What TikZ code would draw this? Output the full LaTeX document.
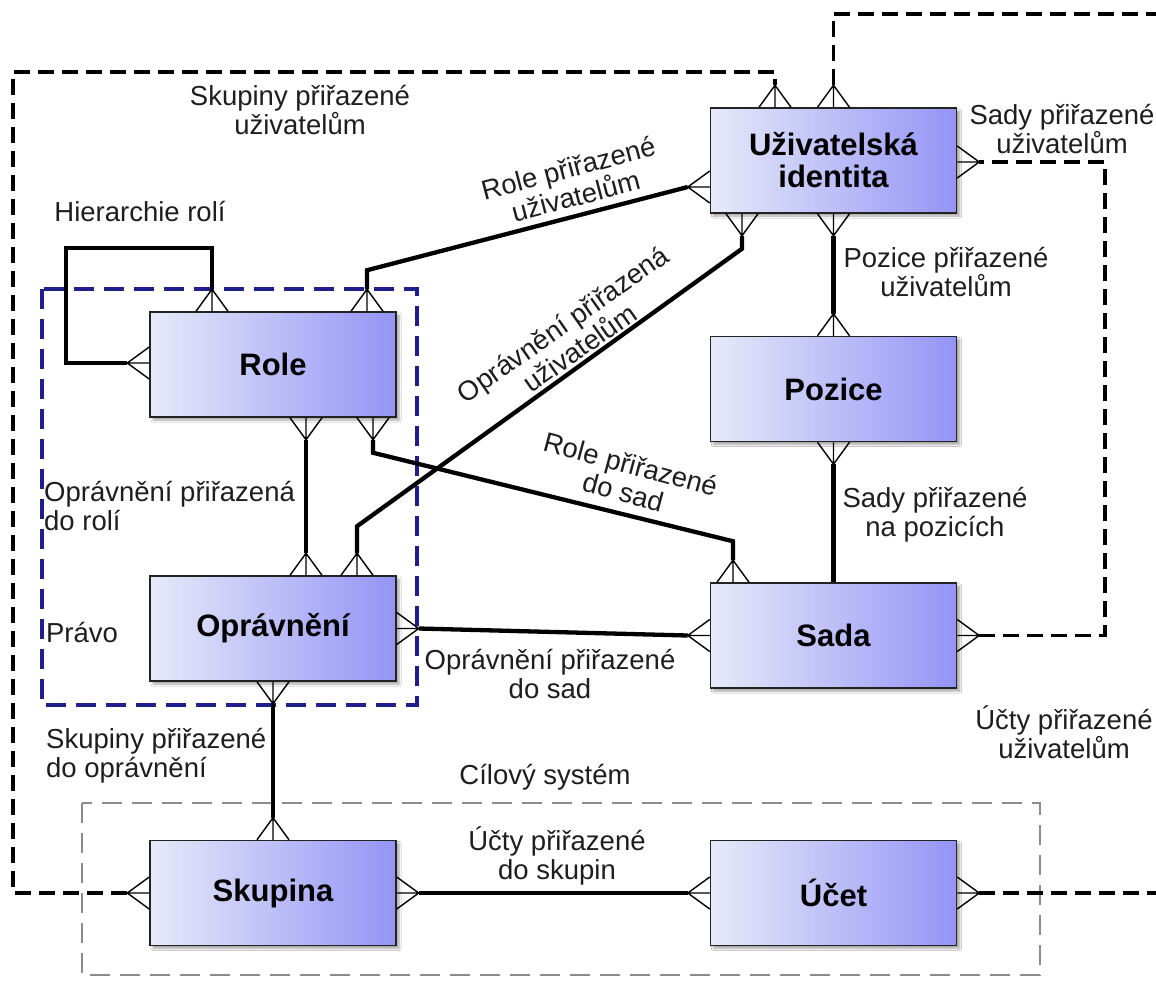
\documentclass[tikz,border=0pt]{standalone}
\usepackage{fontspec}
\setmainfont{Liberation Sans}
\usetikzlibrary{calc,shadows.blur}

\definecolor{boxleft}{RGB}{230,234,248}
\definecolor{boxright}{RGB}{148,148,246}
\definecolor{boxedge}{RGB}{35,35,35}
\definecolor{labeltext}{RGB}{30,30,30}
\definecolor{rightsblue}{RGB}{30,30,140}
\definecolor{systemgray}{RGB}{140,140,140}

\tikzset{
  entity/.style={draw=boxedge, line width=1.5pt, minimum width=246pt,
    minimum height=105pt, inner sep=0pt, left color=boxleft, right color=boxright,
    font=\fontsize{31}{32}\selectfont\bfseries, align=center,
    blur shadow={shadow xshift=3pt, shadow yshift=-3pt, shadow blur steps=6, shadow opacity=35}},
  lbl/.style={font=\fontsize{27.5}{29}\selectfont, text=labeltext, align=center, inner sep=0pt},
  rel/.style={line width=4.3pt},
  optrel/.style={line width=3.3pt, dash pattern=on 16pt off 8pt},
  crowline/.style={line width=1.4pt},
  rightsframe/.style={draw=rightsblue, line width=3.2pt, dash pattern=on 20pt off 10pt},
  systemframe/.style={draw=systemgray, line width=2.8pt, dash pattern=on 20pt off 10pt},
}

% crow's foot at port #1, pointing away from the box along (#2,#3)
\newcommand{\crowfoot}[3]{%
  \coordinate (#1-a) at ($(#1)+({22*(#2)},{22*(#3)})$);
  \draw[crowline] (#1-a) -- (#1)
    (#1-a) -- ($(#1)+({16*(#3)},{-16*(#2)})$)
    (#1-a) -- ($(#1)+({-16*(#3)},{16*(#2)})$);
}

\begin{document}
\begin{tikzpicture}[x=1pt,y=-1pt]
\useasboundingbox (0,0) rectangle (1156,980);
\fill[white] (0,0) rectangle (1156,980);

% group frames
\draw[rightsframe] (42,289) rectangle (417,705);
\draw[systemframe] (82,803) rectangle (1040,975);

% entities
\node[entity] (uid)  at (833.5,160.5) {Uživatelská\\identita};
\node[entity] (role) at (273,364.5) {Role};
\node[entity] (poz)  at (833.5,389) {Pozice};
\node[entity] (opr)  at (273,628.5) {Oprávnění};
\node[entity] (sada) at (833.5,635.5) {Sada};
\node[entity] (skup) at (273,893) {Skupina};
\node[entity] (ucet) at (833.5,893) {Účet};

% ports on the box sides
\coordinate (uT1) at ($(uid.north)+(-58.5,0)$);
\coordinate (uT2) at (uid.north);
\coordinate (uB1) at ($(uid.south)+(-91.5,0)$);
\coordinate (uB2) at (uid.south);
\coordinate (uL)  at ($(uid.west)+(0,26.5)$);
\coordinate (uR)  at ($(uid.east)+(0,1.5)$);
\coordinate (rT1) at ($(role.north)+(-61,0)$);
\coordinate (rT2) at ($(role.north)+(94,0)$);
\coordinate (rL)  at ($(role.west)+(0,-1.5)$);
\coordinate (rB1) at ($(role.south)+(33,0)$);
\coordinate (rB2) at ($(role.south)+(100,0)$);
\coordinate (pT)  at (poz.north);
\coordinate (pB)  at (poz.south);
\coordinate (oT1) at ($(opr.north)+(33,0)$);
\coordinate (oT2) at ($(opr.north)+(84,0)$);
\coordinate (oR)  at (opr.east);
\coordinate (oB)  at (opr.south);
\coordinate (sT1) at ($(sada.north)+(-100.5,0)$);
\coordinate (sT2) at (sada.north);
\coordinate (sL)  at (sada.west);
\coordinate (sR)  at (sada.east);
\coordinate (gT)  at (skup.north);
\coordinate (gL)  at (skup.west);
\coordinate (gR)  at (skup.east);
\coordinate (cL)  at (ucet.west);
\coordinate (cR)  at (ucet.east);

% crow's feet
\crowfoot{uT1}{0}{-1}
\crowfoot{uT2}{0}{-1}
\crowfoot{uB1}{0}{1}
\crowfoot{uB2}{0}{1}
\crowfoot{uL}{-1}{0}
\crowfoot{uR}{1}{0}
\crowfoot{rT1}{0}{-1}
\crowfoot{rT2}{0}{-1}
\crowfoot{rL}{-1}{0}
\crowfoot{rB1}{0}{1}
\crowfoot{rB2}{0}{1}
\crowfoot{pT}{0}{-1}
\crowfoot{pB}{0}{1}
\crowfoot{oT1}{0}{-1}
\crowfoot{oT2}{0}{-1}
\crowfoot{oR}{1}{0}
\crowfoot{oB}{0}{1}
\crowfoot{sT1}{0}{-1}
\crowfoot{sL}{-1}{0}
\crowfoot{sR}{1}{0}
\crowfoot{gT}{0}{-1}
\crowfoot{gL}{-1}{0}
\crowfoot{gR}{1}{0}
\crowfoot{cL}{-1}{0}
\crowfoot{cR}{1}{0}

% bend points and open ends
\coordinate (nwcorner) at (13,72);
\coordinate (necorner) at (1156,14);
\coordinate (eastedge) at (1156,893);
\coordinate (sadyrail) at (1105,0);
\coordinate (hiercorner) at (66,248);
\coordinate (rubend) at ($(rT2)+(0,-41)$);
\coordinate (rsbend1) at ($(rB2)+(0,35)$);
\coordinate (rsbend2) at ($(sT1)+(0,-41)$);
\coordinate (oubend1) at ($(oT2)+(0,-49)$);
\coordinate (oubend2) at ($(uB1)+(0,35)$);

% optional (dashed) relationships
\draw[optrel] (gL-a) -| (nwcorner) -| (uT1-a);
\draw[optrel] (uT2-a) |- (necorner);
\draw[optrel] (cR-a) -- (eastedge);
\draw[optrel] (sR-a) -- (sR-a -| sadyrail) -- (uR-a -| sadyrail) -- (uR-a);

% relationships
\draw[rel] (rT1-a) |- (hiercorner) |- (rL-a);
\draw[rel] (uL-a) -- (rubend) -- (rT2-a);
\draw[rel] (rB1-a) -- (oT1-a);
\draw[rel] (rB2-a) -- (rsbend1) -- (rsbend2) -- (sT1-a);
\draw[rel] (oT2-a) -- (oubend1) -- (oubend2) -- (uB1-a);
\draw[rel] (uB2-a) -- (pT-a);
\draw[rel] (pB-a) -- (sT2);
\draw[rel] (oR-a) -- (sL-a);
\draw[rel] (oB-a) -- (gT-a);
\draw[rel] (gR-a) -- (cL-a);

% labels
\node[lbl] (l1) at (300,110) {Skupiny přiřazené\\uživatelům};
\node[lbl] (l2) at (1062,129) {Sady přiřazené\\uživatelům};
\node[lbl, rotate=14.7] (l3) at (572,182) {Role přiřazené\\uživatelům};
\node[lbl] (l4) at (140,212) {Hierarchie rolí};
\node[lbl, rotate=35] (l5) at (571,336) {Oprávnění přiřazená\\uživatelům};
\node[lbl] (l6) at (946,272) {Pozice přiřazené\\uživatelům};
\node[lbl, rotate=-15] (l7) at (627,478) {Role přiřazené\\do sad};
\node[lbl, align=left, anchor=west] (l8) at (44,506) {Oprávnění přiřazená\\do rolí};
\node[lbl] (l9) at (935,515) {Sady přiřazené\\na pozicích};
\node[lbl] (l10) at (82,633) {Právo};
\node[lbl] (l11) at (550,674) {Oprávnění přiřazené\\do sad};
\node[lbl] (l12) at (1064,732) {Účty přiřazené\\uživatelům};
\node[lbl, align=left, anchor=west] (l13) at (46,756) {Skupiny přiřazené\\do oprávnění};
\node[lbl] (l14) at (545,777) {Cílový systém};
\node[lbl] (l15) at (557,856) {Účty přiřazené\\do skupin};
\end{tikzpicture}
\end{document}
